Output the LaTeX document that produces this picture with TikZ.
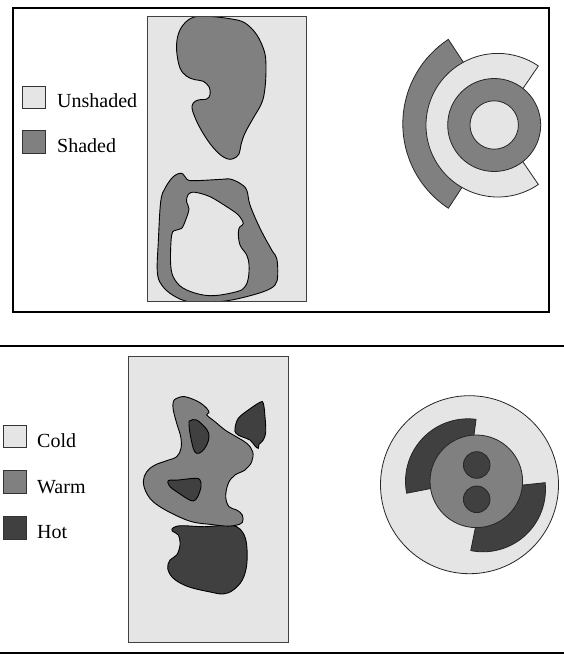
\documentclass[tikz,border=0pt]{standalone}
\usepackage{fontspec}
\setmainfont{Liberation Serif}
\usetikzlibrary{calc}
\definecolor{cLight}{RGB}{229,229,229}
\definecolor{cMid}{RGB}{128,128,128}
\definecolor{cDark}{RGB}{64,64,64}
\tikzset{
  frameline/.style={line width=2pt, black},
  panelrect/.style={fill=cLight, draw=black!75, line width=0.8pt},
  blob/.style={draw=black, line width=0.9pt, smooth cycle, tension=0.6},
  ringshape/.style={draw=black!85, line width=0.8pt},
  legbox/.style={draw=black!80, line width=0.8pt},
  legtext/.style={anchor=base west, inner sep=0pt, font=\fontsize{20}{24}\selectfont}
}
\begin{document}
\begin{tikzpicture}[x=1pt,y=-1pt]
\useasboundingbox (0,0) rectangle (564,654);
% ================= TOP PANEL =================
\draw[frameline] (13,7.5) rectangle (548.5,311.5);
\path[panelrect] (147,16) rectangle (306,301);
\begin{scope}
\clip (147,16) rectangle (306,301);
% top blob
\draw[blob, fill=cMid] plot coordinates {
 (193.3,17.3) (208.3,16.3) (231.7,19) (245,23) (256.7,34.7) (264.3,51.3) (266,66.3)
 (265,88) (261.7,103) (253.3,118) (245,133) (241,144.7) (239,154) (233.3,158.7)
 (226.7,158.7) (218.3,153) (208.3,141.3) (198.3,124.7) (192.3,109.7) (193.3,103)
 (198.3,100) (206.7,99) (210,94.7) (209.3,87.3) (203.3,81.3) (195,79.7) (186.7,76.3)
 (180,68) (176.7,51.3) (177.7,36.3) (183.3,24.7)};
% bottom blob outer
\draw[blob, fill=cMid] plot coordinates {
 (181.7,173.3) (186.7,179) (193.3,180.7) (221.7,179.3) (230,179) (240,183.3)
 (246.7,190) (250,205) (260,228.3) (271.7,250) (276.7,258.3) (277.7,275) (275,285)
 (263.3,291.7) (236.7,299) (215,302) (190,302) (173.3,295.5) (161.7,285)
 (157.3,271.7) (158.3,241.7) (160.7,201.7) (165,188.3) (173.3,176.7)};
% hole
\draw[blob, fill=cLight] plot coordinates {
 (188.3,194.3) (195,192.3) (210,196.7) (226.7,206.7) (238.3,215) (243.3,223.5)
 (240,226.7) (238.3,232.5) (240,245) (246.7,255) (249,265) (248.3,278.3) (245,286.7)
 (236.7,291.7) (210,295.7) (186.7,290) (175,280) (170.7,265) (171.7,235)
 (176.7,230) (181.7,228.3) (185,221.7) (189,209) (186.5,201.7)};
\end{scope}
\draw[draw=black!75, line width=0.8pt] (147,16) rectangle (306,301);
% legend top
\draw[legbox, fill=cLight] (22,86) rectangle (45,108);
\node[legtext] (lunsh) at (57,107.3) {Unshaded};
\draw[legbox, fill=cMid] (22,130) rectangle (45,153);
\node[legtext] (lsh) at (57,152.5) {Shaded};
% rings top right
\coordinate (ca) at (503.8,123.8);
\coordinate (cb) at (497.8,125.2);
\coordinate (cc) at (494.2,125);
\draw[ringshape, fill=cMid] ($(ca)+(123.3:101)$) arc[start angle=123.3, end angle=236.7, radius=101]
  -- ($(ca)+(236.7:64)$) arc[start angle=236.7, end angle=123.3, radius=64] -- cycle;
\draw[ringshape, fill=cLight] ($(cb)+(55.6:71.8)$) arc[start angle=55.6, end angle=304.4, radius=71.8]
  -- ($(cb)+(304.4:40)$) arc[start angle=304.4, end angle=55.6, radius=40] -- cycle;
\draw[ringshape, fill=cMid] (cc) circle[radius=46.5];
\draw[ringshape, fill=cLight] (cc) circle[radius=24.2];
% ================= BOTTOM PANEL =================
\coordinate (bl1) at (0,346);
\coordinate (br1) at (564,346);
\coordinate (bl2) at (0,652.5);
\coordinate (br2) at (564,652.5);
\draw[frameline] (bl1) -- (br1);
\draw[frameline] (bl2) -- (br2);
\path[panelrect] (128,356) rectangle (288.5,642);
% hot bottom
\draw[blob, fill=cDark] plot coordinates {
 (173.3,527.7) (181.7,525.7) (205,526.7) (226.7,525) (236.7,526.7) (243.3,533.3)
 (246.7,545) (246.7,565) (242.3,580) (233.3,590) (223.3,594) (211.7,592.3)
 (188.3,586.7) (173.3,578.3) (167.7,568.3) (170,560) (176.7,555) (180,545)
 (178.3,535) (172.3,531)};
% warm blob
\draw[blob, fill=cMid] plot coordinates {
 (176.7,398.3) (185,396.7) (198.3,401.7) (206.7,408.3) (209,412.7) (206.7,415)
 (215,421.7) (225,430) (235,436) (246.7,443.3) (252.7,451.7) (251.7,461.7) (245,470)
 (235,475) (228.3,483.3) (225.7,496.7) (229,506.7) (236.7,510) (242.3,515)
 (242.3,522.5) (235,525.5) (225,526) (211.7,524.5) (191.7,521.7) (171.7,513.3)
 (155,503.3) (146.7,493.3) (143.3,481.7) (146.7,471.7) (155,465) (166.7,460.7)
 (176.7,456.7) (181,448.3) (180.7,436.7) (176.7,423.3) (173.3,410) (173.3,401.7)};
% hot inner 1
\draw[blob, fill=cDark] plot coordinates {
 (190,420.7) (196.7,420) (206.7,429.3) (209,436.7) (206.7,445) (201.7,451.7)
 (196.7,453.3) (193.3,448.3) (190,433.3) (189,423.3)};
% hot inner 2
\draw[blob, fill=cDark] plot coordinates {
 (168.3,480.7) (178.3,480) (195,478.3) (200,480) (201,486.7) (197.7,496.7)
 (193.3,501) (186.7,498.3) (176.7,491.7) (170,486.7)};
% hot top right
\draw[blob, fill=cDark] plot coordinates {
 (235,428.3) (238.3,418.3) (248.3,410) (260,402.3) (263.3,403.3) (265,416.7)
 (265.7,431.7) (263.3,440) (259,444.3) (258.3,448.3) (255,446) (250,440)
 (241.7,436.7) (236,433.3)};
\draw[draw=black!75, line width=0.8pt] (128,356) rectangle (288.5,642);
% legend bottom
\draw[legbox, fill=cLight] (3,425) rectangle (26,447);
\node[legtext] (lcold) at (37,447.3) {Cold};
\draw[legbox, fill=cMid] (3,470) rectangle (26,493);
\node[legtext] (lwarm) at (37,493) {Warm};
\draw[legbox, fill=cDark] (3,516) rectangle (26,539);
\node[legtext] (lhot) at (37,538.3) {Hot};
% circle group bottom right
\coordinate (cd) at (469.5,484.7);
\coordinate (ce) at (468,481.3);
\coordinate (cf) at (483,489.3);
\coordinate (cg) at (476.3,481.3);
\draw[ringshape, fill=cLight] (cd) circle[radius=89];
\draw[ringshape, fill=cDark] (ce) -- ($(ce)+(169:62.5)$) arc[start angle=169, end angle=277.4, radius=62.5] -- cycle;
\draw[ringshape, fill=cDark] (cf) -- ($(cf)+(-6.1:62.5)$) arc[start angle=-6.1, end angle=101.3, radius=62.5] -- cycle;
\draw[ringshape, fill=cMid] (cg) circle[radius=46.3];
\draw[ringshape, fill=cDark] (476.7,465) circle[radius=13.3];
\draw[ringshape, fill=cDark] (476.7,499.3) circle[radius=13.3];
\end{tikzpicture}
\end{document}
